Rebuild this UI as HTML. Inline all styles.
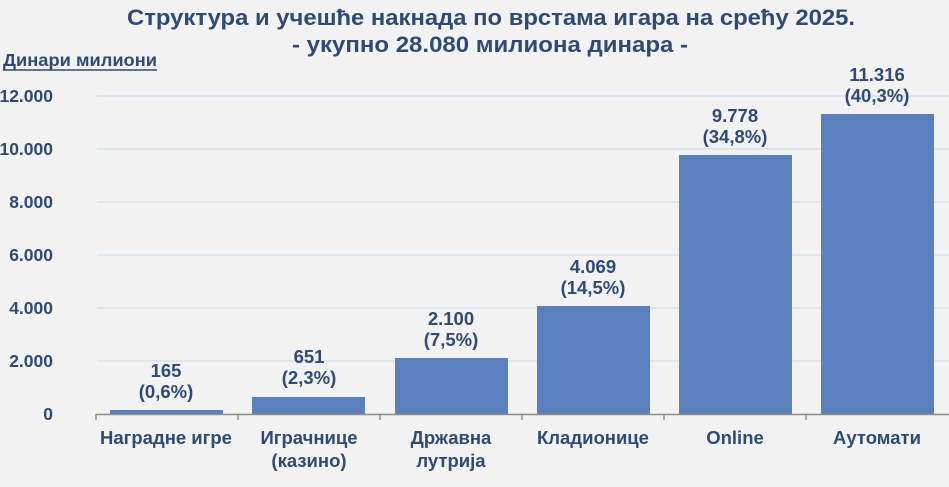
<!DOCTYPE html>
<html><head><meta charset="utf-8"><style>
html,body{margin:0;padding:0;background:#f2f2f2;}
svg{display:block;font-family:"Liberation Sans",Arial,sans-serif;font-weight:bold;}
</style></head><body>
<svg width="949" height="487" viewBox="0 0 949 487" xmlns="http://www.w3.org/2000/svg">
<rect width="949" height="487" fill="#f2f2f2"/>
<g fill="#2f4a74" text-anchor="middle" font-size="22">
<text x="491" y="25" textLength="728" lengthAdjust="spacingAndGlyphs">Структура и учешће накнада по врстама игара на срећу 2025.</text>
<text x="490" y="52" textLength="396" lengthAdjust="spacingAndGlyphs">- укупно 28.080 милиона динара -</text>
</g>
<text x="3" y="66" fill="#2f4a74" font-size="17.5" textLength="154" lengthAdjust="spacingAndGlyphs">Динари милиони</text>
<line x1="3" y1="70" x2="157" y2="70" stroke="#2f4a74" stroke-width="1.5"/>
<g stroke="#dde5f0" stroke-width="2">
<line x1="97" y1="361" x2="949" y2="361"/>
<line x1="97" y1="308" x2="949" y2="308"/>
<line x1="97" y1="255" x2="949" y2="255"/>
<line x1="97" y1="202" x2="949" y2="202"/>
<line x1="97" y1="149" x2="949" y2="149"/>
<line x1="97" y1="96" x2="949" y2="96"/>
</g>
<g fill="#2f4a74" font-size="17.5" text-anchor="end">
<text x="53" y="420">0</text>
<text x="53" y="367">2.000</text>
<text x="53" y="314">4.000</text>
<text x="53" y="261">6.000</text>
<text x="53" y="208">8.000</text>
<text x="53" y="155">10.000</text>
<text x="53" y="102">12.000</text>
</g>
<g fill="#5a7fbd">
<rect x="110" y="410" width="113" height="4.5"/>
<rect x="252" y="397" width="113" height="17.5"/>
<rect x="395" y="358" width="113" height="56.5"/>
<rect x="537" y="306" width="113" height="108.5"/>
<rect x="679" y="155" width="113" height="259.5"/>
<rect x="821" y="114" width="113" height="300.5"/>
</g>
<g stroke="#8c8c8c" stroke-width="1.5">
<line x1="96" y1="414.5" x2="949" y2="414.5"/>
<line x1="96" y1="414" x2="96" y2="420"/>
<line x1="238" y1="414" x2="238" y2="420"/>
<line x1="380" y1="414" x2="380" y2="420"/>
<line x1="522" y1="414" x2="522" y2="420"/>
<line x1="664" y1="414" x2="664" y2="420"/>
<line x1="806" y1="414" x2="806" y2="420"/>
</g>
<g fill="#2f4a74" font-size="18.5" text-anchor="middle">
<text x="166" y="377">165</text><text x="166" y="398">(0,6%)</text>
<text x="309" y="363">651</text><text x="309" y="384">(2,3%)</text>
<text x="451" y="325">2.100</text><text x="451" y="346">(7,5%)</text>
<text x="593" y="273">4.069</text><text x="593" y="294">(14,5%)</text>
<text x="735" y="122">9.778</text><text x="735" y="143">(34,8%)</text>
<text x="877" y="81">11.316</text><text x="877" y="102">(40,3%)</text>
<text x="166" y="444">Наградне игре</text>
<text x="309" y="444">Играчнице</text><text x="309" y="467">(казино)</text>
<text x="451" y="444">Државна</text><text x="451" y="467">лутрија</text>
<text x="593" y="444">Кладионице</text>
<text x="735" y="444">Online</text>
<text x="877" y="444">Аутомати</text>
</g>
</svg>
</body></html>
